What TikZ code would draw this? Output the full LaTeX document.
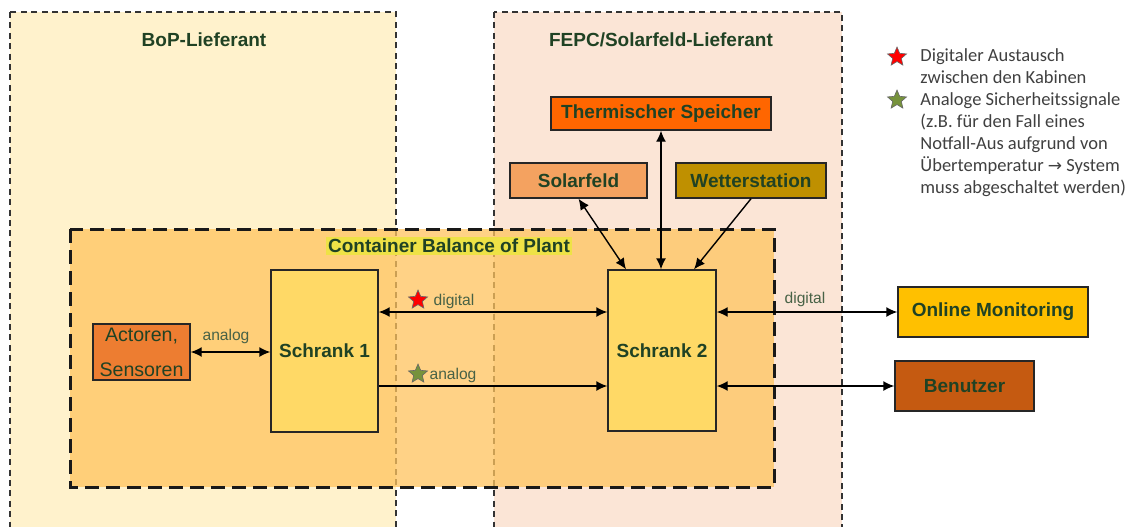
\documentclass[tikz,border=0pt]{standalone}
\usepackage{fontspec}
\setmainfont{Liberation Sans}
\newfontfamily\legendfont{Carlito}
\newfontfamily\symfont{DejaVu Sans}
\usetikzlibrary{shapes.geometric, arrows.meta, positioning}
\definecolor{txtgreen}{RGB}{32,66,36}
\definecolor{siggreen}{RGB}{72,98,70}
\definecolor{bopfill}{RGB}{255,242,204}
\definecolor{fepcfill}{RGB}{251,229,214}
\definecolor{contfill}{RGB}{255,196,94}
\definecolor{hilite}{RGB}{238,226,70}
\definecolor{schrankfill}{RGB}{255,217,102}
\definecolor{actfill}{RGB}{237,125,49}
\definecolor{speicherfill}{RGB}{255,102,0}
\definecolor{solarfill}{RGB}{244,162,96}
\definecolor{wetterfill}{RGB}{191,144,0}
\definecolor{onlinefill}{RGB}{255,192,0}
\definecolor{userfill}{RGB}{197,90,17}
\definecolor{stargreen}{RGB}{118,146,60}

\begin{document}
\begin{tikzpicture}[x=0.5pt, y=-0.5pt,
  every node/.style={inner sep=2pt},
  region/.style={draw=black!80, line width=0.8pt, dash pattern=on 3pt off 2.2pt},
  regtitle/.style={font=\fontsize{9.5}{11}\selectfont\bfseries, text=txtgreen},
  block/.style={draw=black!85, line width=0.7pt, inner sep=0pt,
                font=\fontsize{9.5}{11}\selectfont\bfseries, text=txtgreen},
  sig/.style={font=\fontsize{7.8}{9}\selectfont, text=siggreen},
  arrow/.style={-{Latex[length=5.5pt,width=5pt]}, line width=0.7pt},
  biarrow/.style={{Latex[length=5.5pt,width=5pt]}-{Latex[length=5.5pt,width=5pt]}, line width=0.7pt},
  sigstar/.style={star, star points=5, star point ratio=2.2, minimum size=10pt,
                  inner sep=0pt, draw=black!60, line width=0.3pt}]
\clip (0,0) rectangle (1133,526);

% supplier areas
\fill[white] (0,0) rectangle (1133,526);
\draw[region, fill=bopfill] (10,12) rectangle (396,560);
\draw[region, fill=fepcfill] (494,12) rectangle (842,560);
\node[regtitle] (boptitle) at (204,40) {BoP-Lieferant};
\node[regtitle] (fepctitle) at (661,40) {FEPC/Solarfeld-Lieferant};

% container
\draw[draw=black!90, line width=1.5pt, dash pattern=on 7pt off 3.5pt,
      fill=contfill, fill opacity=0.75] (70,229) rectangle (774,487);
\node[regtitle, fill=hilite, inner sep=1pt] (conttitle) at (449,246) {Container Balance of Plant};

% blocks
\node[block, fill=actfill, minimum width=48.5pt, minimum height=28pt, align=center,
      font=\fontsize{9.8}{17.5}\selectfont] (act) at (141.5,352) {Actoren,\\Sensoren};
\node[block, fill=schrankfill, minimum width=53.5pt, minimum height=81pt] (s1) at (324.5,351) {Schrank 1};
\node[block, fill=schrankfill, minimum width=54pt, minimum height=80.5pt] (s2) at (662,350.5) {Schrank 2};
\node[block, fill=speicherfill, minimum width=110pt, minimum height=16.5pt] (ts) at (661,113.5) {Thermischer Speicher};
\node[block, fill=solarfill, minimum width=68.5pt, minimum height=17.5pt] (sf) at (578.5,180.5) {Solarfeld};
\node[block, fill=wetterfill, minimum width=75pt, minimum height=17.5pt] (ws) at (751,180.5) {Wetterstation};
\node[block, fill=onlinefill, minimum width=95pt, minimum height=25pt] (om) at (993,312) {Online Monitoring};
\node[block, fill=userfill, minimum width=69.5pt, minimum height=25pt] (ben) at (964.5,386) {Benutzer};

% connections
\draw[biarrow] (act.east) -- (act.east -| s1.west);
\node[sig] (lbl1) at (226,336) {analog};
\draw[biarrow] ([yshift=19.5pt]s1.east) -- ([yshift=19.5pt]s1.east -| s2.west);
\node[sigstar, fill=red] (st1) at (418,300) {};
\node[sig] (lbl2) at (454,301) {digital};
\draw[arrow] ([yshift=-17.5pt]s1.east) -- ([yshift=-17.5pt]s1.east -| s2.west);
\node[sigstar, fill=stargreen] (st2) at (418,374) {};
\node[sig] (lbl3) at (453,375) {analog};
\draw[biarrow] (s2.east |- om.west) -- (om.west);
\node[sig] (lbl4) at (805,299) {digital};
\draw[biarrow] (s2.east |- ben.west) -- (ben.west);
\draw[biarrow] (sf.south) -- ([xshift=-18pt]s2.north);
\draw[biarrow] (ts.south) -- (ts.south |- s2.north);
\draw[arrow] (ws.south) -- ([xshift=16pt]s2.north);

% legend
\node[sigstar, fill=red] (lst1) at (897,57) {};
\node[sigstar, fill=stargreen] (lst2) at (897,100) {};
\node[anchor=north west, align=left, inner sep=0pt, text=black!75,
      font=\legendfont\fontsize{9.25}{11}\selectfont] (legend) at (920,48)
  {Digitaler Austausch\\zwischen den Kabinen\\Analoge Sicherheitssignale\\(z.B. für den Fall eines\\Notfall-Aus aufgrund von\\Übertemperatur {\symfont\fontsize{8.5}{11}\selectfont →} System\\muss abgeschaltet werden)};
\end{tikzpicture}
\end{document}
